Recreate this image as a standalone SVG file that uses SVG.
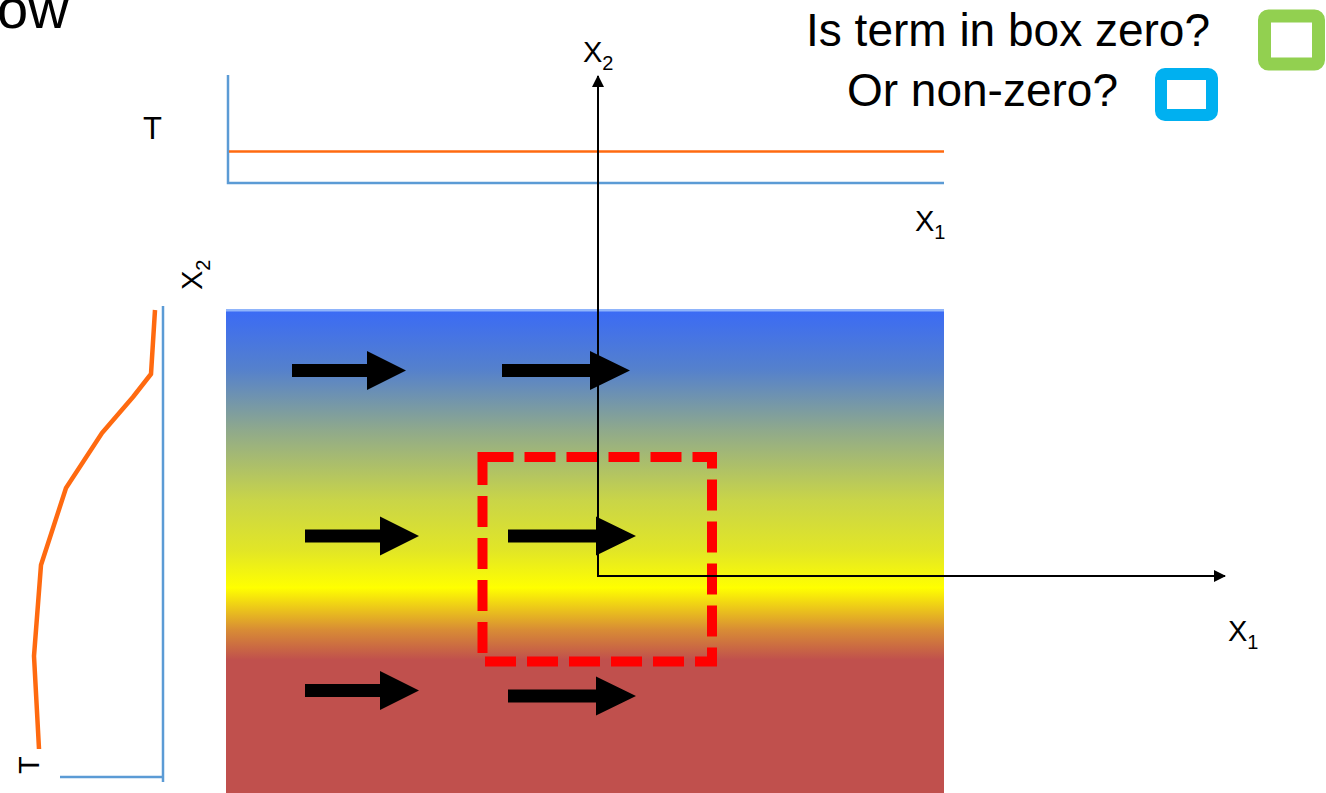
<svg xmlns="http://www.w3.org/2000/svg" width="1326" height="793" viewBox="0 0 1326 793">
<style>
text{font-family:"Liberation Sans",Arial,sans-serif;fill:#000}
.lbl{font-size:29px}
.sub{font-size:20px}
.big{font-size:46px}
.blue{stroke:#5b9bd5;stroke-width:2.5;fill:none}
.orng{stroke:#ff6a10;fill:none}
.axis{stroke:#000;stroke-width:2;fill:none}
.flow{fill:#000}
</style>
<defs>
<linearGradient id="temp" gradientUnits="userSpaceOnUse" x1="0" y1="309" x2="0" y2="793">
<stop offset="0" stop-color="#3a6af6"/>
<stop offset="0.126" stop-color="#5581cc"/>
<stop offset="0.25" stop-color="#8fa98c"/>
<stop offset="0.395" stop-color="#c9d548"/>
<stop offset="0.5" stop-color="#e2e626"/>
<stop offset="0.576" stop-color="#ffff00"/>
<stop offset="0.663" stop-color="#d88c35"/>
<stop offset="0.725" stop-color="#c0504d"/>
<stop offset="1" stop-color="#c0504d"/>
</linearGradient>
<marker id="ah" markerWidth="12" markerHeight="12" viewBox="0 0 12 12" refX="11" refY="6" orient="auto" markerUnits="userSpaceOnUse">
<path d="M0,0 L12,6 L0,12 Z" fill="#000"/>
</marker>
<path id="arrS" d="M0,-6.5 H75 V-19.5 L114,0 L75,19.5 V6.5 H0 Z"/>
<path id="arrL" d="M0,-6.5 H88 V-19.5 L128,0 L88,19.5 V6.5 H0 Z"/>
</defs>

<text x="-3" y="28" style="font-size:56px">ow</text>

<g id="legend">
<text class="big" x="1210" y="46" text-anchor="end">Is term in box zero?</text>
<text class="big" x="1118" y="106" text-anchor="end">Or non-zero?</text>
<rect x="1264.5" y="16" width="54" height="48" rx="4" fill="none" stroke="#92d050" stroke-width="13"/>
<rect x="1161" y="74" width="51" height="41" rx="4" fill="none" stroke="#00b0f0" stroke-width="12"/>
</g>

<g id="top-profile">
<text x="143" y="139" style="font-size:31px">T</text>
<polyline class="blue" points="228,75 228,183 944,183"/>
<line class="orng" x1="229" y1="151.5" x2="944" y2="151.5" stroke-width="2.5"/>
<text class="lbl" x="915" y="231">X<tspan class="sub" dy="8">1</tspan></text>
</g>

<g id="side-profile">
<text class="lbl" transform="translate(202,290) rotate(-90)">X<tspan class="sub" dy="8">2</tspan></text>
<polyline class="blue" points="163,306 163,782"/>
<line class="blue" x1="60" y1="777" x2="163" y2="777"/>
<polyline class="orng" stroke-width="4.5" stroke-linejoin="round" points="155,310 151,374 133,397 102,433 66,488 41,565 34,656 39,749"/>
<text class="lbl" transform="translate(39,774) rotate(-90)">T</text>
</g>

<g id="field">
<rect x="226" y="309" width="718" height="490" fill="url(#temp)"/>
<rect x="226" y="309" width="718" height="2.5" fill="#8fb4fb"/>
</g>

<g id="flow-arrows">
<use href="#arrS" class="flow" x="292" y="370.5"/>
<use href="#arrL" class="flow" x="502" y="370.5"/>
<use href="#arrS" class="flow" x="305" y="536"/>
<use href="#arrL" class="flow" x="508" y="536"/>
<use href="#arrS" class="flow" x="305" y="690.5"/>
<use href="#arrL" class="flow" x="508" y="696"/>
</g>

<g id="control-volume">
<rect x="482.5" y="457" width="229.5" height="204.5" fill="none" stroke="#ff0000" stroke-width="10" stroke-dasharray="31 11"/>
</g>

<g id="connectors">
<line class="axis" x1="598" y1="577" x2="598" y2="76" marker-end="url(#ah)"/>
<line class="axis" x1="597" y1="576" x2="1225" y2="576" marker-end="url(#ah)"/>
</g>

<g id="axis-labels">
<text class="lbl" x="583" y="62">X<tspan class="sub" dy="8">2</tspan></text>
<text class="lbl" x="1228" y="641">X<tspan class="sub" dy="8">1</tspan></text>
</g>
</svg>
